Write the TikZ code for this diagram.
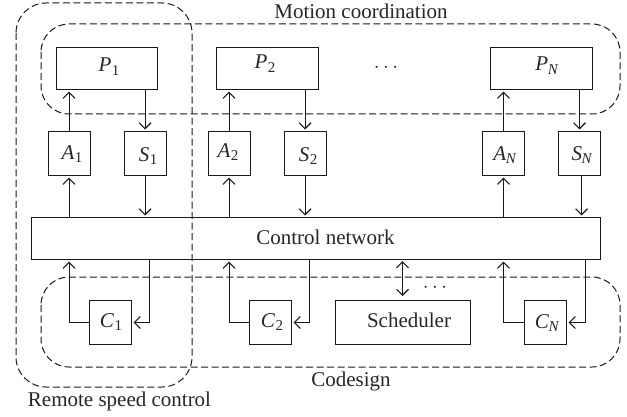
\documentclass[tikz,border=0pt]{standalone}
\usepackage{fontspec}
\setmainfont{Liberation Serif}
\usetikzlibrary{arrows.meta}
\newcommand{\subn}[2]{\textit{#1}\kern0.5pt\raisebox{-0.4ex}{\fontsize{15}{15}\selectfont #2}}
\newcommand{\subi}[2]{\textit{#1}\kern-0.5pt\raisebox{-0.4ex}{\fontsize{15}{15}\selectfont\textit{#2}}}
\tikzset{
  x=1pt,y=-1pt,
  boxn/.style={draw=black!90,line width=1.1pt,inner sep=0pt,anchor=north west},
  lab/.style={inner sep=0pt,font=\fontsize{21}{21}\selectfont,text=black!85},
  arr/.style={draw=black!90,line width=1.1pt,-{Straight Barb[length=6pt,width=12pt,line width=1.1pt]},shorten >=1.5pt},
  arrb/.style={draw=black!90,line width=1.1pt,{Straight Barb[length=6pt,width=12pt,line width=1.1pt]}-{Straight Barb[length=6pt,width=12pt,line width=1.1pt]},shorten >=1pt,shorten <=1pt},
  regionline/.style={draw=black!90,line width=1pt,dash pattern=on 7pt off 3.5pt},
}
\begin{document}
\begin{tikzpicture}
\useasboundingbox (0,0) rectangle (627,417);
% plants
\node[boxn,minimum width=101.5pt,minimum height=42pt] (p1) at (55.5,47) {};
\node[boxn,minimum width=101.5pt,minimum height=42pt] (p2) at (216,47) {};
\node[boxn,minimum width=101.5pt,minimum height=42pt] (pN) at (490,47) {};
% actuators and sensors
\node[boxn,minimum width=42pt,minimum height=44pt] (a1) at (47.5,131) {};
\node[boxn,minimum width=42pt,minimum height=44pt] (s1) at (123.5,131) {};
\node[boxn,minimum width=42pt,minimum height=44pt] (a2) at (207.5,131) {};
\node[boxn,minimum width=42pt,minimum height=44pt] (s2) at (283.5,131) {};
\node[boxn,minimum width=42pt,minimum height=44pt] (aN) at (482,131) {};
\node[boxn,minimum width=42pt,minimum height=44pt] (sN) at (558,131) {};
% network
\node[boxn,minimum width=569.5pt,minimum height=42pt] (net) at (30.5,217) {};
% controllers
\node[boxn,minimum width=42pt,minimum height=44pt] (c1) at (89,300) {};
\node[boxn,minimum width=42pt,minimum height=44pt] (c2) at (249,300) {};
\node[boxn,minimum width=42pt,minimum height=44pt] (cN) at (524,300) {};
\node[boxn,minimum width=135pt,minimum height=44pt] (sch) at (335,300) {};
% dashed regions
\draw[regionline,rounded corners=28pt] (41,24) rectangle (620,114);
\draw[regionline,rounded corners=28pt] (41,277) rectangle (620,367);
\draw[regionline,rounded corners=30pt] (16,3) rectangle (192,387);
% connectors
\foreach \k in {1,2,N}{
  \draw[arr] (a\k.north) -- (a\k.north |- p\k.south);
  \draw[arr] (s\k.north |- p\k.south) -- (s\k.north);
  \draw[arr] (a\k.south |- net.north) -- (a\k.south);
}
\draw[arr] (s1.south) -- (s1.south |- net.north);
\draw[arr] (s2.south) -- (s2.south |- net.north);
\draw[arr] ([xshift=2pt]sN.south) -- ([xshift=2pt]sN.south |- net.north);
\draw[arr] (c1.west) -| (a1.south |- net.south);
\draw[arr] (c2.west) -| (a2.south |- net.south);
\draw[arr] (cN.west) -| (aN.south |- net.south);
\draw[arr] ([xshift=4pt]s1.south |- net.south) |- (c1.east);
\draw[arr] ([xshift=4pt]s2.south |- net.south) |- (c2.east);
\draw[arr] ([xshift=6pt]sN.south |- net.south) |- (cN.east);
\coordinate (schtop) at ([xshift=-0.5pt]sch.north);
\draw[arrb] (schtop |- net.south) -- ([yshift=3pt]schtop);
% labels
\node[lab] (tp1) at (109,67) {\subn{P}{1}};
\node[lab] (tp2) at (265,64) {\subn{P}{2}};
\node[lab] (tpN) at (547,66) {\subi{P}{N}};
\node[lab] (ta1) at (72,154) {\subn{A}{1}};
\node[lab] (ts1) at (148,156) {\subn{S}{1}};
\node[lab] (ta2) at (228,152) {\subn{A}{2}};
\node[lab] (ts2) at (308,156) {\subn{S}{2}};
\node[lab] (taN) at (505,155) {\subi{A}{N}};
\node[lab] (tsN) at (582,155) {\subi{S}{N}};
\node[lab] (tc1) at (111,322) {\subn{C}{1}};
\node[lab] (tc2) at (272,322) {\subn{C}{2}};
\node[lab] (tcN) at (547,323) {\subi{C}{N}};
\node[lab] (tsch) at (409,320) {Scheduler};
\node[lab] (tnet) at (325.5,237) {Control network};
\node[lab] (tdots1) at (386,68) {$\cdots$};
\node[lab] (tdots2) at (435,288) {$\cdots$};
\node[lab] (tmot) at (361,11) {Motion coordination};
\node[lab] (tcod) at (351,381) {Codesign};
\node[lab] (trem) at (119.5,401) {Remote speed control};
\end{tikzpicture}
\end{document}
